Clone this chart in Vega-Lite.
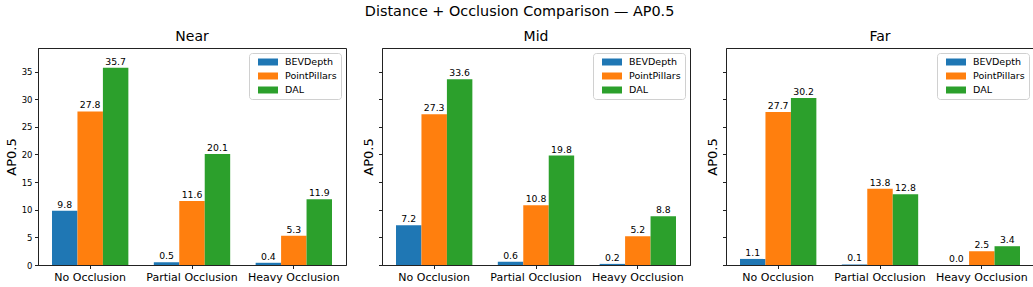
{
  "$schema": "https://vega.github.io/schema/vega-lite/v6.json",
  "padding": {"left": 4, "right": 5, "top": 4, "bottom": 4},
  "title": {"text": "Distance + Occlusion Comparison — AP0.5", "fontSize": 14.4, "anchor": "middle", "offset": 10},
  "datasets": {
    "d": [
      {"distance": "Near", "occlusion": "No Occlusion", "model": "BEVDepth", "value": 9.8},
      {"distance": "Near", "occlusion": "No Occlusion", "model": "PointPillars", "value": 27.8},
      {"distance": "Near", "occlusion": "No Occlusion", "model": "DAL", "value": 35.7},
      {"distance": "Near", "occlusion": "Partial Occlusion", "model": "BEVDepth", "value": 0.5},
      {"distance": "Near", "occlusion": "Partial Occlusion", "model": "PointPillars", "value": 11.6},
      {"distance": "Near", "occlusion": "Partial Occlusion", "model": "DAL", "value": 20.1},
      {"distance": "Near", "occlusion": "Heavy Occlusion", "model": "BEVDepth", "value": 0.4},
      {"distance": "Near", "occlusion": "Heavy Occlusion", "model": "PointPillars", "value": 5.3},
      {"distance": "Near", "occlusion": "Heavy Occlusion", "model": "DAL", "value": 11.9},
      {"distance": "Mid", "occlusion": "No Occlusion", "model": "BEVDepth", "value": 7.2},
      {"distance": "Mid", "occlusion": "No Occlusion", "model": "PointPillars", "value": 27.3},
      {"distance": "Mid", "occlusion": "No Occlusion", "model": "DAL", "value": 33.6},
      {"distance": "Mid", "occlusion": "Partial Occlusion", "model": "BEVDepth", "value": 0.6},
      {"distance": "Mid", "occlusion": "Partial Occlusion", "model": "PointPillars", "value": 10.8},
      {"distance": "Mid", "occlusion": "Partial Occlusion", "model": "DAL", "value": 19.8},
      {"distance": "Mid", "occlusion": "Heavy Occlusion", "model": "BEVDepth", "value": 0.2},
      {"distance": "Mid", "occlusion": "Heavy Occlusion", "model": "PointPillars", "value": 5.2},
      {"distance": "Mid", "occlusion": "Heavy Occlusion", "model": "DAL", "value": 8.8},
      {"distance": "Far", "occlusion": "No Occlusion", "model": "BEVDepth", "value": 1.1},
      {"distance": "Far", "occlusion": "No Occlusion", "model": "PointPillars", "value": 27.7},
      {"distance": "Far", "occlusion": "No Occlusion", "model": "DAL", "value": 30.2},
      {"distance": "Far", "occlusion": "Partial Occlusion", "model": "BEVDepth", "value": 0.1},
      {"distance": "Far", "occlusion": "Partial Occlusion", "model": "PointPillars", "value": 13.8},
      {"distance": "Far", "occlusion": "Partial Occlusion", "model": "DAL", "value": 12.8},
      {"distance": "Far", "occlusion": "Heavy Occlusion", "model": "BEVDepth", "value": 0.0},
      {"distance": "Far", "occlusion": "Heavy Occlusion", "model": "PointPillars", "value": 2.5},
      {"distance": "Far", "occlusion": "Heavy Occlusion", "model": "DAL", "value": 3.4}
    ]
  },
  "spacing": 14,
  "resolve": {"legend": {"color": "independent"}},
  "hconcat": [
    {
      "width": 308, "height": 217,
      "title": {"text": "Near"},
      "data": {"name": "d"},
      "transform": [{"filter": "datum.distance === 'Near'"}],
      "encoding": {
        "x": {"field": "occlusion", "type": "nominal", "sort": ["No Occlusion", "Partial Occlusion", "Heavy Occlusion"], "scale": {"paddingInner": 0.25, "paddingOuter": 0.1375}, "axis": {"title": null, "labelAngle": 0}},
        "xOffset": {"field": "model", "type": "nominal", "sort": ["BEVDepth", "PointPillars", "DAL"], "scale": {"paddingInner": 0, "paddingOuter": 0}},
        "y": {"field": "value", "type": "quantitative", "scale": {"domain": [0, 39.27], "nice": false, "zero": true}, "axis": {"title": "AP0.5", "values": [0, 5, 10, 15, 20, 25, 30, 35]}}
      },
      "layer": [
        {"mark": {"type": "bar"}, "encoding": {"color": {"field": "model", "type": "nominal", "sort": ["BEVDepth", "PointPillars", "DAL"], "scale": {"domain": ["BEVDepth", "PointPillars", "DAL"], "range": ["#1f77b4", "#ff7f0e", "#2ca02c"]}, "legend": {"title": null}}}},
        {"mark": {"type": "text", "dy": -3, "baseline": "alphabetic", "fontSize": 9.3, "color": "#000"}, "encoding": {"text": {"field": "value", "type": "quantitative", "format": ".1f"}}}
      ]
    },
    {
      "width": 308, "height": 217,
      "title": {"text": "Mid"},
      "data": {"name": "d"},
      "transform": [{"filter": "datum.distance === 'Mid'"}],
      "encoding": {
        "x": {"field": "occlusion", "type": "nominal", "sort": ["No Occlusion", "Partial Occlusion", "Heavy Occlusion"], "scale": {"paddingInner": 0.25, "paddingOuter": 0.1375}, "axis": {"title": null, "labelAngle": 0}},
        "xOffset": {"field": "model", "type": "nominal", "sort": ["BEVDepth", "PointPillars", "DAL"], "scale": {"paddingInner": 0, "paddingOuter": 0}},
        "y": {"field": "value", "type": "quantitative", "scale": {"domain": [0, 39.27], "nice": false, "zero": true}, "axis": {"title": "AP0.5", "values": [0, 5, 10, 15, 20, 25, 30, 35], "labels": false}}
      },
      "layer": [
        {"mark": {"type": "bar"}, "encoding": {"color": {"field": "model", "type": "nominal", "sort": ["BEVDepth", "PointPillars", "DAL"], "scale": {"domain": ["BEVDepth", "PointPillars", "DAL"], "range": ["#1f77b4", "#ff7f0e", "#2ca02c"]}, "legend": {"title": null}}}},
        {"mark": {"type": "text", "dy": -3, "baseline": "alphabetic", "fontSize": 9.3, "color": "#000"}, "encoding": {"text": {"field": "value", "type": "quantitative", "format": ".1f"}}}
      ]
    },
    {
      "width": 308, "height": 217,
      "title": {"text": "Far"},
      "data": {"name": "d"},
      "transform": [{"filter": "datum.distance === 'Far'"}],
      "encoding": {
        "x": {"field": "occlusion", "type": "nominal", "sort": ["No Occlusion", "Partial Occlusion", "Heavy Occlusion"], "scale": {"paddingInner": 0.25, "paddingOuter": 0.1375}, "axis": {"title": null, "labelAngle": 0}},
        "xOffset": {"field": "model", "type": "nominal", "sort": ["BEVDepth", "PointPillars", "DAL"], "scale": {"paddingInner": 0, "paddingOuter": 0}},
        "y": {"field": "value", "type": "quantitative", "scale": {"domain": [0, 39.27], "nice": false, "zero": true}, "axis": {"title": "AP0.5", "values": [0, 5, 10, 15, 20, 25, 30, 35], "labels": false}}
      },
      "layer": [
        {"mark": {"type": "bar"}, "encoding": {"color": {"field": "model", "type": "nominal", "sort": ["BEVDepth", "PointPillars", "DAL"], "scale": {"domain": ["BEVDepth", "PointPillars", "DAL"], "range": ["#1f77b4", "#ff7f0e", "#2ca02c"]}, "legend": {"title": null}}}},
        {"mark": {"type": "text", "dy": -3, "baseline": "alphabetic", "fontSize": 9.3, "color": "#000"}, "encoding": {"text": {"field": "value", "type": "quantitative", "format": ".1f"}}}
      ]
    }
  ],
  "config": {
    "font": "DejaVu Sans",
    "view": {"stroke": "#222", "strokeWidth": 1},
    "axis": {"labelFont": "DejaVu Sans", "titleFont": "DejaVu Sans", "grid": false, "domainColor": "#222", "tickColor": "#222", "labelColor": "#000", "titleColor": "#000", "tickSize": 3.5, "labelPadding": 2.5, "titleFontWeight": "normal", "titleFontSize": 13, "labelFontSize": 8.5, "titlePadding": 3},
    "axisX": {"labelFontSize": 11, "labelPadding": 3},
    "title": {"font": "DejaVu Sans", "fontWeight": "normal", "fontSize": 14, "color": "#000", "offset": 4},
    "legend": {"orient": "top-right", "offset": 5, "labelFont": "DejaVu Sans", "labelFontSize": 9.5, "labelColor": "#000", "symbolType": "M-2,-0.7H2V0.7H-2Z", "symbolSize": 100, "symbolOffset": 10, "symbolStrokeWidth": 0, "symbolOpacity": 1, "strokeColor": "#d0d0d0", "fillColor": "#ffffff", "padding": 4, "cornerRadius": 3, "rowPadding": 4, "labelOffset": 12}
  }
}
